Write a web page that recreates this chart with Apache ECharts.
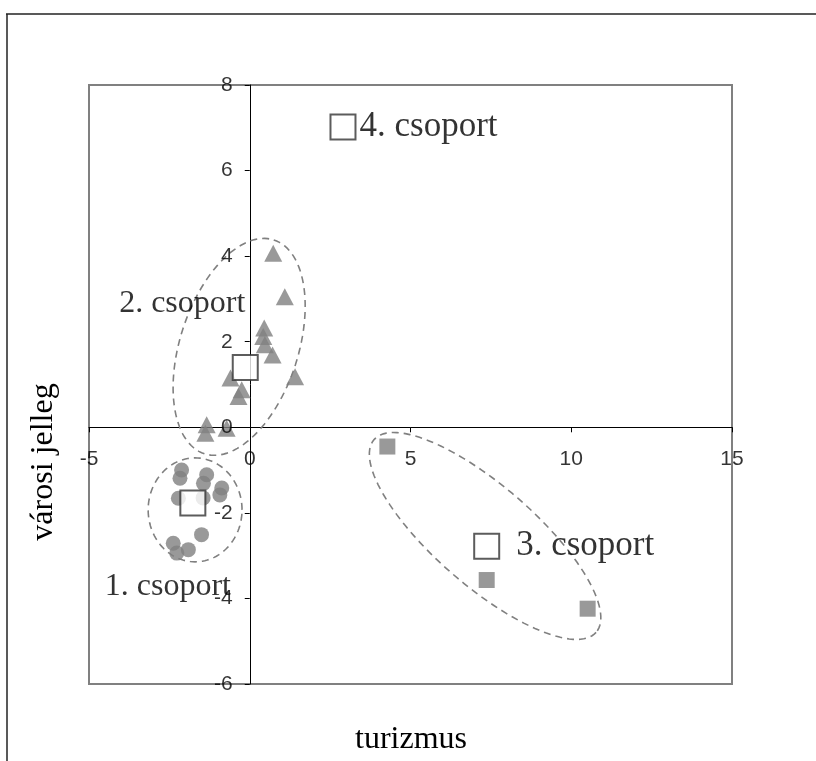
<!DOCTYPE html>
<html>
<head>
<meta charset="utf-8">
<script src="https://cdn.jsdelivr.net/npm/echarts@6/dist/echarts.min.js"></script>
<style>html,body{margin:0;padding:0;background:#fff;}#c{width:816px;height:761px;}</style>
</head>
<body>
<div id="c"></div>
<script>
// ---- data ----
var xTicks = [-5, 0, 5, 10, 15];
var yTicks = [-6, -4, -2, 0, 2, 4, 6, 8];
var cluster1 = [[-2.12,-1.0],[-2.17,-1.19],[-1.34,-1.11],[-1.44,-1.31],[-0.87,-1.42],[-0.93,-1.58],
                [-2.22,-1.66],[-1.45,-1.65],[-1.5,-2.51],[-2.38,-2.71],[-1.91,-2.86],[-2.27,-2.94]];
var cluster2 = [[0.73,4.07],[1.09,3.05],[0.45,2.32],[0.42,2.12],[0.47,1.93],[0.71,1.69],[1.41,1.18],
                [-0.6,1.15],[-0.25,0.88],[-0.35,0.72],[-1.34,0.06],[-1.38,-0.14],[-0.72,-0.02]];
var cluster3 = [[4.28,-0.45],[7.37,-3.57],[10.51,-4.24]];
var centroids = [[-1.77,-1.77],[-0.14,1.40],[7.37,-2.78],[2.9,7.02]];
var groupNames = ['1. csoport','2. csoport','3. csoport','4. csoport'];
// ellipses: centre x, centre y, semi-axis vector u (x,y), semi-axis vector v (x,y), in data units
var ellipses = [
  [-1.70,-1.93, 1.46,0, 0,1.215],
  [-0.33,1.88, 1.076,2.500, 1.750,-0.418],
  [7.32,-2.54, 3.453,-2.252, -1.020,-0.882]
];
var xTitle = 'turizmus';
var yTitle = 'városi jelleg';

var gray = '#808080';
var sans = 'Liberation Sans, Arial, sans-serif';
var serif = 'Liberation Serif, Times New Roman, serif';

var labelCfg = [
  {position:'inside', offset:[-25,84], fontSize:32},
  {position:'inside', offset:[-63,-64], fontSize:32},
  {position:'right', distance:16, fontSize:35},
  {position:'right', distance:3, fontSize:35}
];

var chart = echarts.init(document.getElementById('c'));
chart.setOption({
  animation:false,
  backgroundColor:'#fff',
  grid:{left:89, right:84, top:85, bottom:77, show:true, borderColor:gray, borderWidth:2, backgroundColor:'transparent'},
  xAxis:{type:'value', min:xTicks[0], max:xTicks[xTicks.length-1], interval:5,
    axisLine:{onZero:true, lineStyle:{color:'#000', width:1}},
    axisTick:{show:true, length:5, lineStyle:{color:'#000'}},
    axisLabel:{show:false},
    splitLine:{show:false}},
  yAxis:{type:'value', min:yTicks[0], max:yTicks[yTicks.length-1], interval:2,
    axisLine:{onZero:true, lineStyle:{color:'#000', width:1}},
    axisTick:{show:true, length:5, lineStyle:{color:'#000'}},
    axisLabel:{show:false},
    splitLine:{show:false}},
  graphic:[
    {type:'line', shape:{x1:6, y1:14, x2:816, y2:14}, style:{stroke:'#222', lineWidth:1.5}},
    {type:'line', shape:{x1:7, y1:14, x2:7, y2:761}, style:{stroke:'#222', lineWidth:1.5}},
    {type:'text', x:411, y:740, style:{text:xTitle, font:'32px '+serif, fill:'#000', align:'center', verticalAlign:'middle'}},
    {type:'text', x:44, y:462, rotation:Math.PI/2, style:{text:yTitle, font:'32px '+serif, fill:'#000', align:'center', verticalAlign:'middle'}}
  ],
  series:[
    {type:'custom', coordinateSystem:'cartesian2d', data:ellipses, encode:{x:0, y:1}, z:1, silent:true,
      renderItem:function(params, api){
        var cx=api.value(0), cy=api.value(1), ux=api.value(2), uy=api.value(3), vx=api.value(4), vy=api.value(5);
        var pts=[];
        for(var i=0;i<120;i++){
          var t=i/120*Math.PI*2;
          pts.push(api.coord([cx+ux*Math.cos(t)+vx*Math.sin(t), cy+uy*Math.cos(t)+vy*Math.sin(t)]));
        }
        return {type:'polygon', shape:{points:pts}, style:{fill:null, stroke:gray, lineWidth:1.6, lineDash:[7,5]}};
      }},
    {type:'scatter', data:cluster1, symbol:'circle', symbolSize:15, itemStyle:{color:gray}, z:3},
    {type:'scatter', data:cluster2, symbol:'triangle', symbolSize:[18,17], itemStyle:{color:gray}, z:3},
    {type:'scatter', data:cluster3, symbol:'rect', symbolSize:16, itemStyle:{color:gray}, z:3},
    // tick labels placed at the axis crossing through the library's scales
    {type:'scatter', silent:true, z:4, symbolSize:0, data:xTicks.map(function(v){return [v,0];}),
      label:{show:true, position:'bottom', distance:21, formatter:function(p){return String(p.value[0]);},
        fontFamily:sans, fontSize:21, color:'#000'}},
    {type:'scatter', silent:true, z:4, symbolSize:0, data:yTicks.map(function(v){return [0,v];}),
      label:{show:true, position:'left', distance:17, formatter:function(p){return String(p.value[1]);},
        fontFamily:sans, fontSize:21, color:'#000'}},
    {type:'scatter', z:5,
      data:centroids.map(function(p,i){
        return {value:p, label:Object.assign({show:true, formatter:groupNames[i], fontFamily:serif, color:'#000'}, labelCfg[i])};
      }),
      symbol:'rect', symbolSize:25, itemStyle:{color:'#fff', borderColor:'#333', borderWidth:2}}
  ]
});
</script>
</body>
</html>
